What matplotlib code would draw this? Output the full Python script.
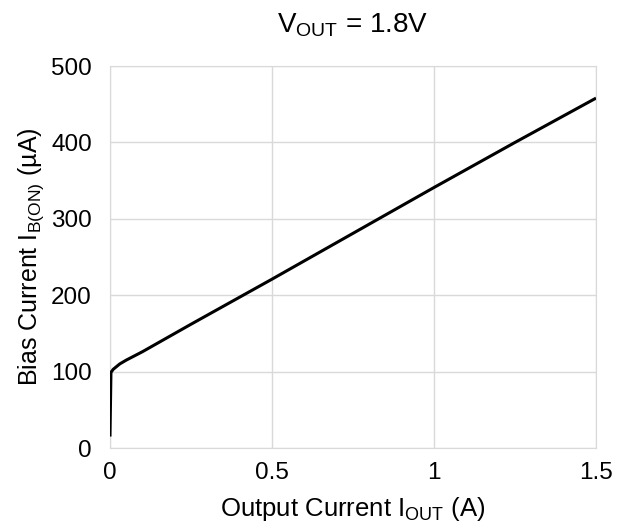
import matplotlib
matplotlib.use('Agg')
import matplotlib.pyplot as plt

# Bias current vs output current
iout = [0.0, 0.003, 0.01, 0.03, 0.05, 0.1, 0.25, 0.5, 0.75, 1.0, 1.25, 1.5]
ibias = [15, 99, 103, 110, 115, 126, 162, 221, 281, 341, 400, 458]

xticks = [0, 0.5, 1, 1.5]
xtick_labels = ["0", "0.5", "1", "1.5"]
yticks = [0, 100, 200, 300, 400, 500]

plt.rcParams['font.family'] = ['Liberation Sans', 'DejaVu Sans']

fig = plt.figure(figsize=(6.27, 5.29), dpi=100)
ax = fig.add_axes([0.1754, 0.1531, 0.7752, 0.7221])

ax.plot(iout, ibias, color='black', linewidth=2.2, solid_capstyle='butt', zorder=3)

ax.set_xlim(0, 1.5)
ax.set_ylim(0, 500)
ax.set_xticks(xticks)
ax.set_xticklabels(xtick_labels)
ax.set_yticks(yticks)
ax.grid(True, color='#d9d9d9', linewidth=1)
ax.tick_params(length=0, labelsize=17.5)
ax.tick_params(axis='x', pad=10)
ax.tick_params(axis='y', pad=13)
for s in ax.spines.values():
    s.set_color('#d9d9d9')

ax.set_title(r"V$_\mathregular{OUT}$ = 1.8V", fontsize=20, pad=24)
ax.set_xlabel(r"Output Current I$_\mathregular{OUT}$ (A)", fontsize=18.5, labelpad=8)
ax.set_ylabel(r"Bias Current I$_\mathregular{B(ON)}$ (µA)", fontsize=18, labelpad=4)

plt.savefig("out.png", dpi=100)
